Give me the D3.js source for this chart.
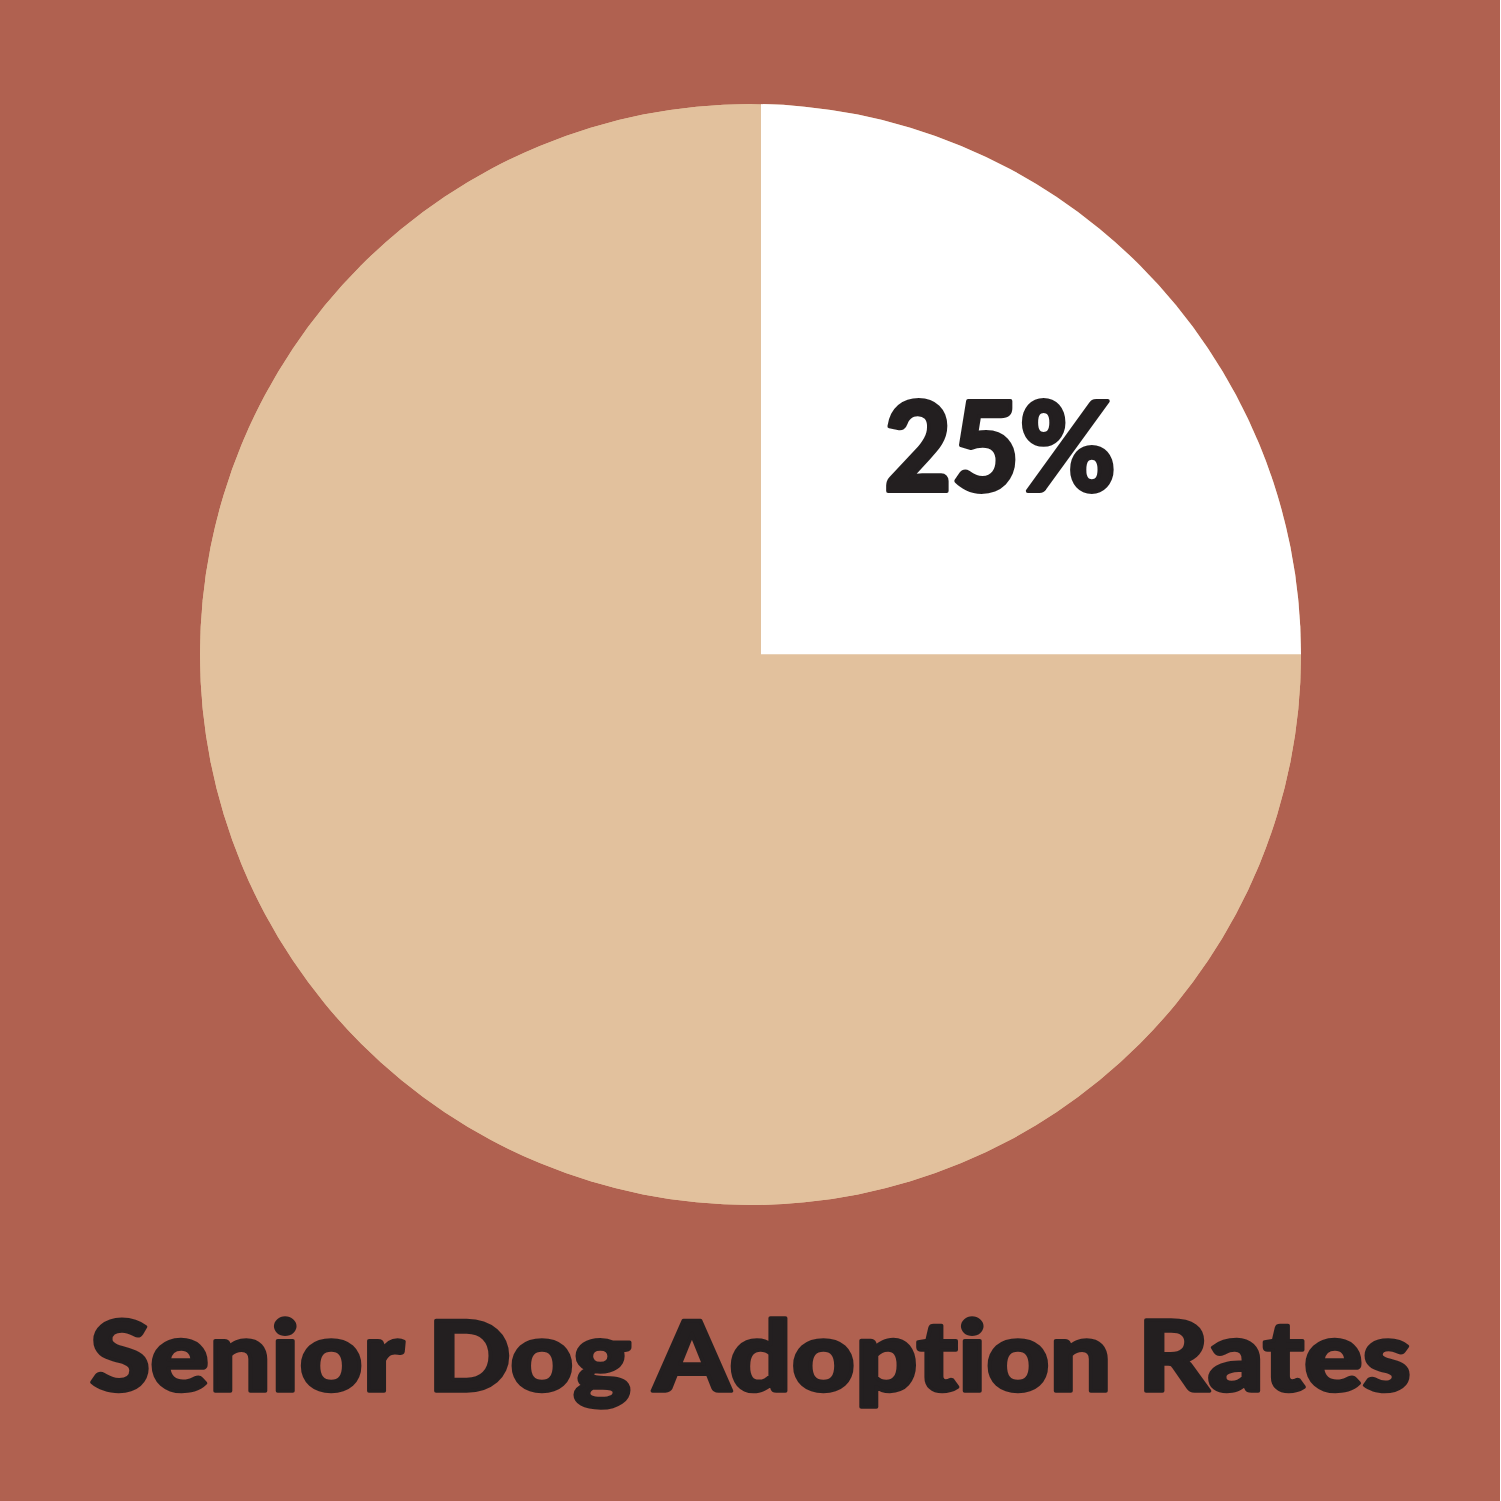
<!DOCTYPE html>
<html><head><meta charset="utf-8">
<script src="https://cdn.jsdelivr.net/npm/d3@7"></script>
<style>html,body{margin:0;padding:0;background:#fff;}svg{display:block;}text{font-variant-ligatures:none;font-feature-settings:"liga" 0;}</style>
</head><body>
<script>
const categories = ["Adopted", "Not adopted"];
const values = [25, 75];
const labels = ["25%", ""];
const title = "Senior Dog Adoption Rates";
const colors = ["#FFFFFF", "#E2C19D"];

const W = 1501, H = 1501;
const svg = d3.select("body").append("svg").attr("width", W).attr("height", H);
svg.append("rect").attr("width", 1500).attr("height", H).attr("fill", "#B06150");

const cx = 750.5, cy = 654.5, r = 550.5;
const g = svg.append("g").attr("transform", `translate(${cx},${cy})`);

g.append("clipPath").attr("id", "pc").append("circle").attr("r", r);
g.append("circle").attr("r", r).attr("fill", colors[1]);

const pie = d3.pie().sort(null).value(d => d.v);
const arcs = pie(categories.map((c, i) => ({c, v: values[i], l: labels[i]})));
const arc = d3.arc().innerRadius(0).outerRadius(r + 20);
const color = d3.scaleOrdinal().domain(categories).range(colors);

const inner = g.append("g").attr("clip-path", "url(#pc)");
inner.selectAll("path").data(arcs).join("path")
  .attr("d", arc)
  .attr("fill", d => color(d.data.c))
  .attr("transform", (d, i) => i === 0 ? "translate(10.5,0)" : null);

svg.append("text")
  .attr("x", 1000).attr("y", 491)
  .attr("text-anchor", "middle")
  .attr("font-family", "Lato")
  .attr("font-weight", 900)
  .attr("font-size", 124)
  .attr("fill", "#231F20")
  .attr("stroke", "#231F20").attr("stroke-width", 4).attr("stroke-linejoin", "round")
  .attr("textLength", 232).attr("lengthAdjust", "spacingAndGlyphs")
  .text(arcs[0].data.l);

svg.append("text")
  .attr("x", 750.5).attr("y", 1391)
  .attr("text-anchor", "middle")
  .attr("font-family", "Lato")
  .attr("font-weight", 900)
  .attr("font-size", 98)
  .attr("fill", "#231F20")
  .attr("stroke", "#231F20").attr("stroke-width", 3.5).attr("stroke-linejoin", "round")
  .attr("textLength", 1321).attr("lengthAdjust", "spacingAndGlyphs")
  .text(title);
</script>
</body></html>
